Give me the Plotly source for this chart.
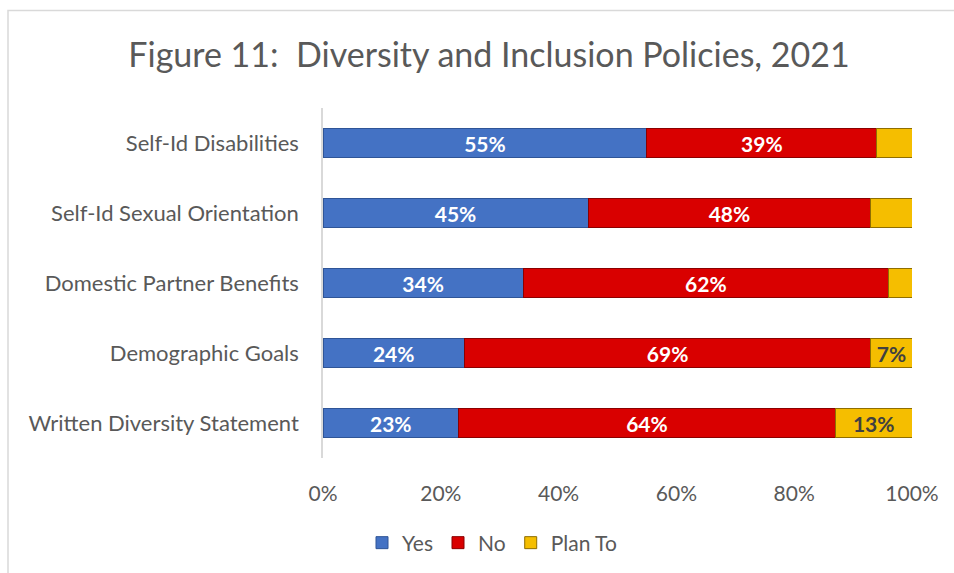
import plotly.graph_objects as go

categories = ["Self-Id Disabilities", "Self-Id Sexual Orientation", "Domestic Partner Benefits",
              "Demographic Goals", "Written Diversity Statement"]
yes_vals = [55, 45, 34, 24, 23]
no_vals = [39, 48, 62, 69, 64]
plan_vals = [6, 7, 4, 7, 13]
plan_labels = ["", "", "", "7%", "13%"]
tick_vals = [0, 20, 40, 60, 80, 100]
tick_text = ["0%", "20%", "40%", "60%", "80%", "100%"]

FONT = "Lato"
W, H = 954, 573
ML, MR, MT, MB = 323, 42, 108, 115
pw, ph = W - ML - MR, H - MT - MB

fig = go.Figure()
fig.add_trace(go.Bar(
    y=categories, x=yes_vals, orientation="h", name="Yes",
    marker=dict(color="#4472C4", line=dict(color="#2F5597", width=1)),
    text=[f"{v}%" for v in yes_vals], textposition="inside", insidetextanchor="middle",
    textangle=0, constraintext="none",
    textfont=dict(family=FONT, size=21, color="white", weight="bold"),
))
fig.add_trace(go.Bar(
    y=categories, x=no_vals, orientation="h", name="No",
    marker=dict(color="#D90000", line=dict(color="#8B0000", width=1)),
    text=[f"{v}%" for v in no_vals], textposition="inside", insidetextanchor="middle",
    textangle=0, constraintext="none",
    textfont=dict(family=FONT, size=21, color="white", weight="bold"),
))
fig.add_trace(go.Bar(
    y=categories, x=plan_vals, orientation="h", name="Plan To",
    marker=dict(color="#F5BE00", line=dict(color="#8F6E00", width=1)),
    text=plan_labels, textposition="inside", insidetextanchor="middle",
    textangle=0, constraintext="none",
    textfont=dict(family=FONT, size=21, color="#404040", weight="bold"),
))

fig.update_layout(
    width=W, height=H,
    margin=dict(l=ML, r=MR, t=MT, b=MB),
    barmode="stack", bargap=0.59,
    paper_bgcolor="white", plot_bgcolor="white",
    font=dict(family=FONT, color="#595959"),
    title=dict(text="Figure 11:  Diversity and Inclusion Policies, 2021",
               x=489 / W, xanchor="center", y=1 - 55 / H, yanchor="middle",
               xref="container", yref="container",
               font=dict(family=FONT, size=34, color="#595959")),
    xaxis=dict(range=[0, 100], tickvals=tick_vals, ticktext=tick_text,
               showgrid=False, zeroline=False, showline=False,
               tickfont=dict(family=FONT, size=21, color="#595959"),
               ticks="", ticklabelstandoff=21),
    yaxis=dict(autorange="reversed", showgrid=False, showline=True,
               linecolor="#D9D9D9", linewidth=1.5, ticks="",
               tickfont=dict(family=FONT, size=22, color="#595959"),
               ticklabelstandoff=18),
    legend=dict(orientation="h", x=492 / W, xanchor="center", xref="container",
                y=1 - 543 / H, yanchor="middle", yref="container",
                font=dict(family=FONT, size=21, color="#595959"),
                traceorder="normal", itemwidth=30, tracegroupgap=0),
    showlegend=True,
    shapes=[dict(type="rect", xref="paper", yref="paper",
                 x0=(8 - ML) / pw, x1=(W + 30 - ML) / pw,
                 y0=-(MB + 30) / ph, y1=(H - 10.5 - MB) / ph,
                 line=dict(color="#D9D9D9", width=1.5), layer="below")],
)
fig.write_html("out.html")
